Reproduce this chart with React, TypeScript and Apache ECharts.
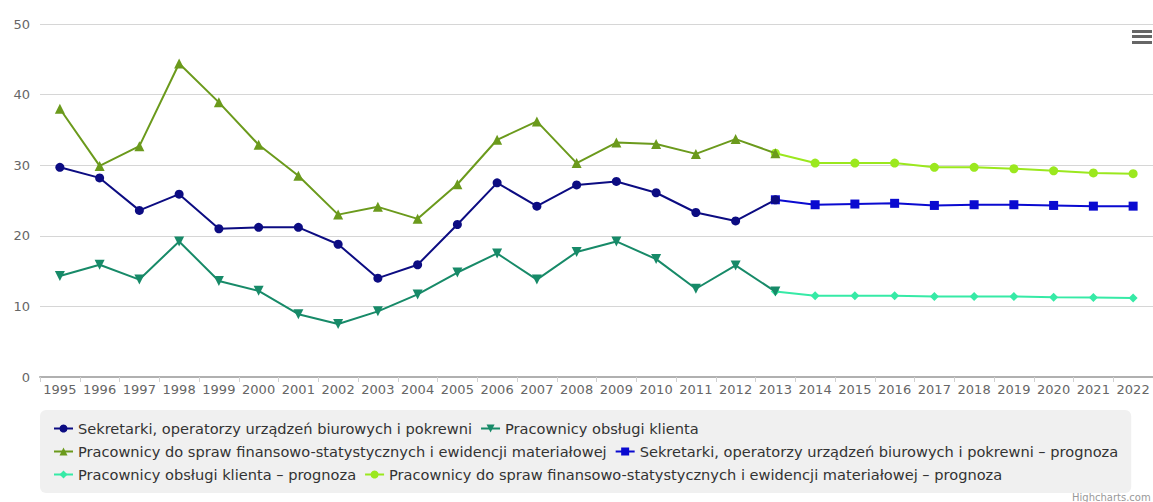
import React, { useEffect, useRef } from "react";
import * as echarts from "echarts";

const years = [
  "1995", "1996", "1997", "1998", "1999", "2000", "2001", "2002", "2003", "2004",
  "2005", "2006", "2007", "2008", "2009", "2010", "2011", "2012", "2013", "2014",
  "2015", "2016", "2017", "2018", "2019", "2020", "2021", "2022",
];

const sekretarki = [
  29.7, 28.2, 23.6, 25.9, 21.0, 21.2, 21.2, 18.8, 14.0, 15.9,
  21.6, 27.5, 24.2, 27.2, 27.7, 26.1, 23.3, 22.1, 25.1,
  null, null, null, null, null, null, null, null, null,
];
const obslugi = [
  14.3, 15.9, 13.8, 19.2, 13.6, 12.2, 8.9, 7.5, 9.3, 11.7,
  14.8, 17.5, 13.8, 17.7, 19.2, 16.7, 12.5, 15.8, 12.1,
  null, null, null, null, null, null, null, null, null,
];
const finansowe = [
  38.0, 29.9, 32.7, 44.4, 38.9, 32.9, 28.5, 23.0, 24.1, 22.4,
  27.3, 33.6, 36.2, 30.3, 33.2, 33.0, 31.6, 33.7, 31.7,
  null, null, null, null, null, null, null, null, null,
];
const sekretarkiPrognoza = [
  null, null, null, null, null, null, null, null, null, null,
  null, null, null, null, null, null, null, null, 25.1,
  24.4, 24.5, 24.6, 24.3, 24.4, 24.4, 24.3, 24.2, 24.2,
];
const obslugiPrognoza = [
  null, null, null, null, null, null, null, null, null, null,
  null, null, null, null, null, null, null, null, 12.1,
  11.5, 11.5, 11.5, 11.4, 11.4, 11.4, 11.3, 11.25, 11.2,
];
const finansowePrognoza = [
  null, null, null, null, null, null, null, null, null, null,
  null, null, null, null, null, null, null, null, 31.7,
  30.3, 30.3, 30.3, 29.7, 29.7, 29.5, 29.2, 28.9, 28.8,
];

const names = [
  "Sekretarki, operatorzy urządzeń biurowych i pokrewni",
  "Pracownicy obsługi klienta",
  "Pracownicy do spraw finansowo-statystycznych i ewidencji materiałowej",
  "Sekretarki, operatorzy urządzeń biurowych i pokrewni – prognoza",
  "Pracownicy obsługi klienta – prognoza",
  "Pracownicy do spraw finansowo-statystycznych i ewidencji materiałowej – prognoza",
];

const FONT = "DejaVu Sans, Verdana, sans-serif";

export default function App() {
  const ref = useRef<HTMLDivElement>(null);

  useEffect(() => {
    document.body.style.margin = "0";
    if (!ref.current) return;
    const chart = echarts.init(ref.current, undefined, { renderer: "svg" });

    const mk = (
      name: string,
      data: (number | null)[],
      color: string,
      symbol: string,
      size: number,
      z: number,
      rotate = 0
    ) => ({
      name,
      type: "line",
      data,
      symbol,
      symbolSize: size,
      symbolRotate: rotate,
      showAllSymbol: true,
      connectNulls: false,
      z,
      lineStyle: { color, width: 2 },
      itemStyle: { color },
      emphasis: { disabled: true },
    });

    chart.setOption({
      animation: false,
      textStyle: { fontFamily: FONT },
      grid: { left: 40, right: 0, top: 24, bottom: 125, containLabel: false },
      xAxis: {
        type: "category",
        data: years,
        boundaryGap: true,
        axisLine: { lineStyle: { color: "#b0b0b0", width: 2 } },
        axisTick: { show: true, alignWithLabel: false, length: 5, lineStyle: { color: "#d0d0d0" } },
        axisLabel: { interval: 0, color: "#666", fontSize: 13, fontFamily: FONT, margin: 6 },
        splitLine: { show: false },
      },
      yAxis: {
        type: "value",
        min: 0,
        max: 50,
        interval: 10,
        axisLine: { show: false },
        axisTick: { show: false },
        axisLabel: { color: "#666", fontSize: 13, fontFamily: FONT, margin: 10 },
        splitLine: { lineStyle: { color: "#d6d6d6", width: 1 } },
      },
      legend: {
        left: 40,
        top: 410,
        width: 1110,
        padding: [11, 13, 11, 13],
        backgroundColor: "#f0f0f0",
        borderRadius: 6,
        itemGap: 8,
        itemWidth: 19,
        itemHeight: 10,
        selectedMode: false,
        textStyle: { color: "#333", fontSize: 14.6, fontFamily: FONT, lineHeight: 14 },
        data: names,
      },
      graphic: [
        { type: "rect", shape: { x: 1132, y: 30, width: 20, height: 3 }, style: { fill: "#666" } },
        { type: "rect", shape: { x: 1132, y: 35, width: 20, height: 3 }, style: { fill: "#666" } },
        { type: "rect", shape: { x: 1132, y: 41, width: 20, height: 3 }, style: { fill: "#666" } },
        {
          type: "text",
          x: 1072,
          y: 492,
          style: { text: "Highcharts.com", fill: "#999", fontSize: 10, fontFamily: FONT },
        },
      ],
      series: [
        mk(names[0], sekretarki, "#0c0c82", "circle", 9, 4),
        mk(names[1], obslugi, "#178a68", "triangle", 10, 4, 180),
        mk(names[2], finansowe, "#6b9a1c", "triangle", 10, 4),
        mk(names[3], sekretarkiPrognoza, "#0a0ad0", "rect", 9, 3),
        mk(names[4], obslugiPrognoza, "#36eaa6", "diamond", 9, 3),
        mk(names[5], finansowePrognoza, "#9be81e", "circle", 9, 3),
      ],
    });

    return () => chart.dispose();
  }, []);

  return <div ref={ref} style={{ width: 1153, height: 502 }} />;
}
